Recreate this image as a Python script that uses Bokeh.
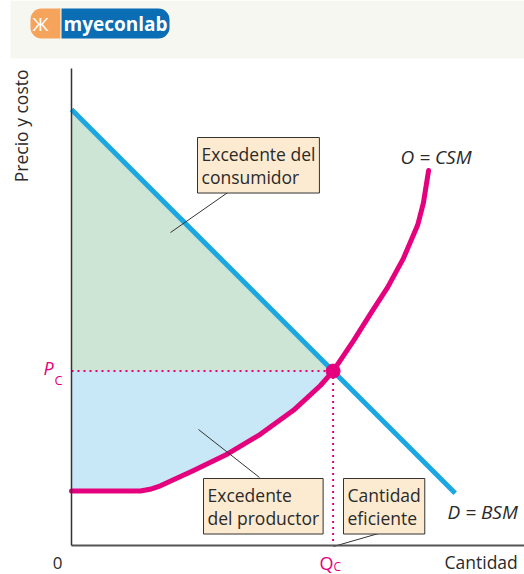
import math
from bokeh.plotting import figure
from bokeh.models import Range1d, Label, BoxAnnotation
from bokeh.embed import file_html
from bokeh.resources import INLINE

# ---------------- data ----------------
demand_q = [0.0, 8.8]
demand_p = [10.0, 1.2]

supply_q = [0.0, 1.58, 1.80, 2.04, 2.80, 3.58, 4.33, 5.09, 5.71, 6.0, 6.47, 6.86, 7.25, 7.61, 7.94, 8.07, 8.19]
supply_p = [1.25, 1.25, 1.29, 1.37, 1.72, 2.10, 2.55, 3.10, 3.67, 4.0, 4.70, 5.32, 5.92, 6.58, 7.35, 7.85, 8.60]

Qc = 6.0
Pc = 4.0

# ---------------- layout helpers (pixel -> data, for placing annotations) ----------------
SCALE = 43.6
X0, Y0 = 71, 545
W, H = 524, 574


def q(px):
    return (px - X0) / SCALE


def pr(py):
    return (Y0 - py) / SCALE


FONT = "Open Sans"
BLUE = "#1aa7e2"
MAGENTA = "#e5007e"
GREEN_FILL = "#cce5d4"
BLUE_FILL = "#c8e8f7"
BOX_FILL = "#fdebd1"
TXT = "#2a2a2a"

p = figure(width=W, height=H, output_backend="svg", toolbar_location=None,
           x_range=Range1d(q(0), q(W)), y_range=Range1d(pr(H), pr(0)),
           min_border=0, min_border_left=0, min_border_right=0, min_border_top=0, min_border_bottom=0)
p.outline_line_color = None
p.grid.visible = False
p.background_fill_color = "white"
p.border_fill_color = "white"

for ax in (p.xaxis, p.yaxis):
    ax.ticker = []
    ax.major_tick_line_color = None
    ax.minor_tick_line_color = None
    ax.major_label_text_font_size = "0px"
    ax.major_label_standoff = 0
    ax.major_tick_out = 0
    ax.major_tick_in = 0
    ax.fixed_location = 0
p.xaxis.bounds = (0, q(W))
p.yaxis.bounds = (0, pr(68))
p.xaxis.axis_line_color = "#555555"
p.xaxis.axis_line_width = 2
p.yaxis.axis_line_color = "#333333"
p.yaxis.axis_line_width = 1.5

# header band
p.add_layout(BoxAnnotation(left=q(10), right=q(W), bottom=pr(58), top=pr(0),
                           fill_color="#f7f7f2", fill_alpha=1, line_color=None, level="underlay"))

# surplus areas
p.patch([0, Qc, 0], [demand_p[0], Pc, Pc], fill_color=GREEN_FILL, line_color=None)
n = supply_q.index(Qc) + 1
p.varea(x=supply_q[:n], y1=supply_p[:n], y2=[Pc] * n, fill_color=BLUE_FILL)

# dotted guides
p.line([0, Qc], [Pc, Pc], line_color=MAGENTA, line_width=2, line_dash="2 4")
p.line([Qc, Qc], [Pc, 0], line_color=MAGENTA, line_width=2, line_dash="2 4")

# curves
p.line(demand_q, demand_p, line_color=BLUE, line_width=5)
p.line(supply_q, supply_p, line_color=MAGENTA, line_width=5, line_join="round", line_cap="round")
p.scatter([Qc], [Pc], size=14, color=MAGENTA)

# leader lines
p.segment(x0=[q(233), q(259), q(378)], y0=[pr(188), pr(477), pr(533)],
          x1=[q(170), q(198), q(333)], y1=[pr(232), pr(429), pr(546)],
          line_color="#333333", line_width=1)


def box(text, left, top):
    p.add_layout(Label(x=q(left), y=pr(top), text=text, text_align="left", text_baseline="top",
                       text_font=FONT, text_font_size="17.5px", text_color=TXT, text_line_height=0.98,
                       background_fill_color=BOX_FILL, background_fill_alpha=1,
                       border_line_color="#333333", border_line_width=1, padding=4))


box("Excedente del\nconsumidor", 197, 137)
box("Excedente\ndel productor", 203, 478)
box("Cantidad\neficiente", 343, 478)


def lab(text, x, y, align="left", base="middle", size="17px", color=TXT, style="normal", angle=0.0):
    p.add_layout(Label(x=q(x), y=pr(y), text=text, text_align=align, text_baseline=base,
                       text_font=FONT, text_font_size=size, text_color=color,
                       text_font_style=style, angle=angle))


lab("Precio y costo", 20, 69, align="right", angle=math.pi / 2, size="17.5px")
lab("0", 57, 562, align="center")
lab("Cantidad", 444, 561, size="17.5px")
lab("O = CSM", 400, 156, style="italic", size="19px")
lab("D = BSM", 447, 511, style="italic", size="19px")
lab("P", 43, 367, color=MAGENTA, style="italic", size="18px")
lab("C", 54, 379, color=MAGENTA, size="13px")
lab("Q", 319, 562, color=MAGENTA, size="18px")
lab("C", 333, 566, color=MAGENTA, size="12px")

# logo
p.add_layout(Label(x=q(30), y=pr(23), text=" \u0416 ", text_align="left", text_baseline="middle",
                   text_font=FONT, text_font_size="19px", text_color="white",
                   background_fill_color="#f6a45c", padding=2,
                   border_radius=(11, 0, 0, 11)))
p.add_layout(Label(x=q(61), y=pr(23), text="myeconlab", text_align="left", text_baseline="middle",
                   text_font=FONT, text_font_size="19px", text_font_style="bold", text_color="white",
                   background_fill_color="#0b6db3", padding=2,
                   border_radius=(0, 11, 11, 0)))

open("out.html", "w").write(file_html(p, INLINE))
